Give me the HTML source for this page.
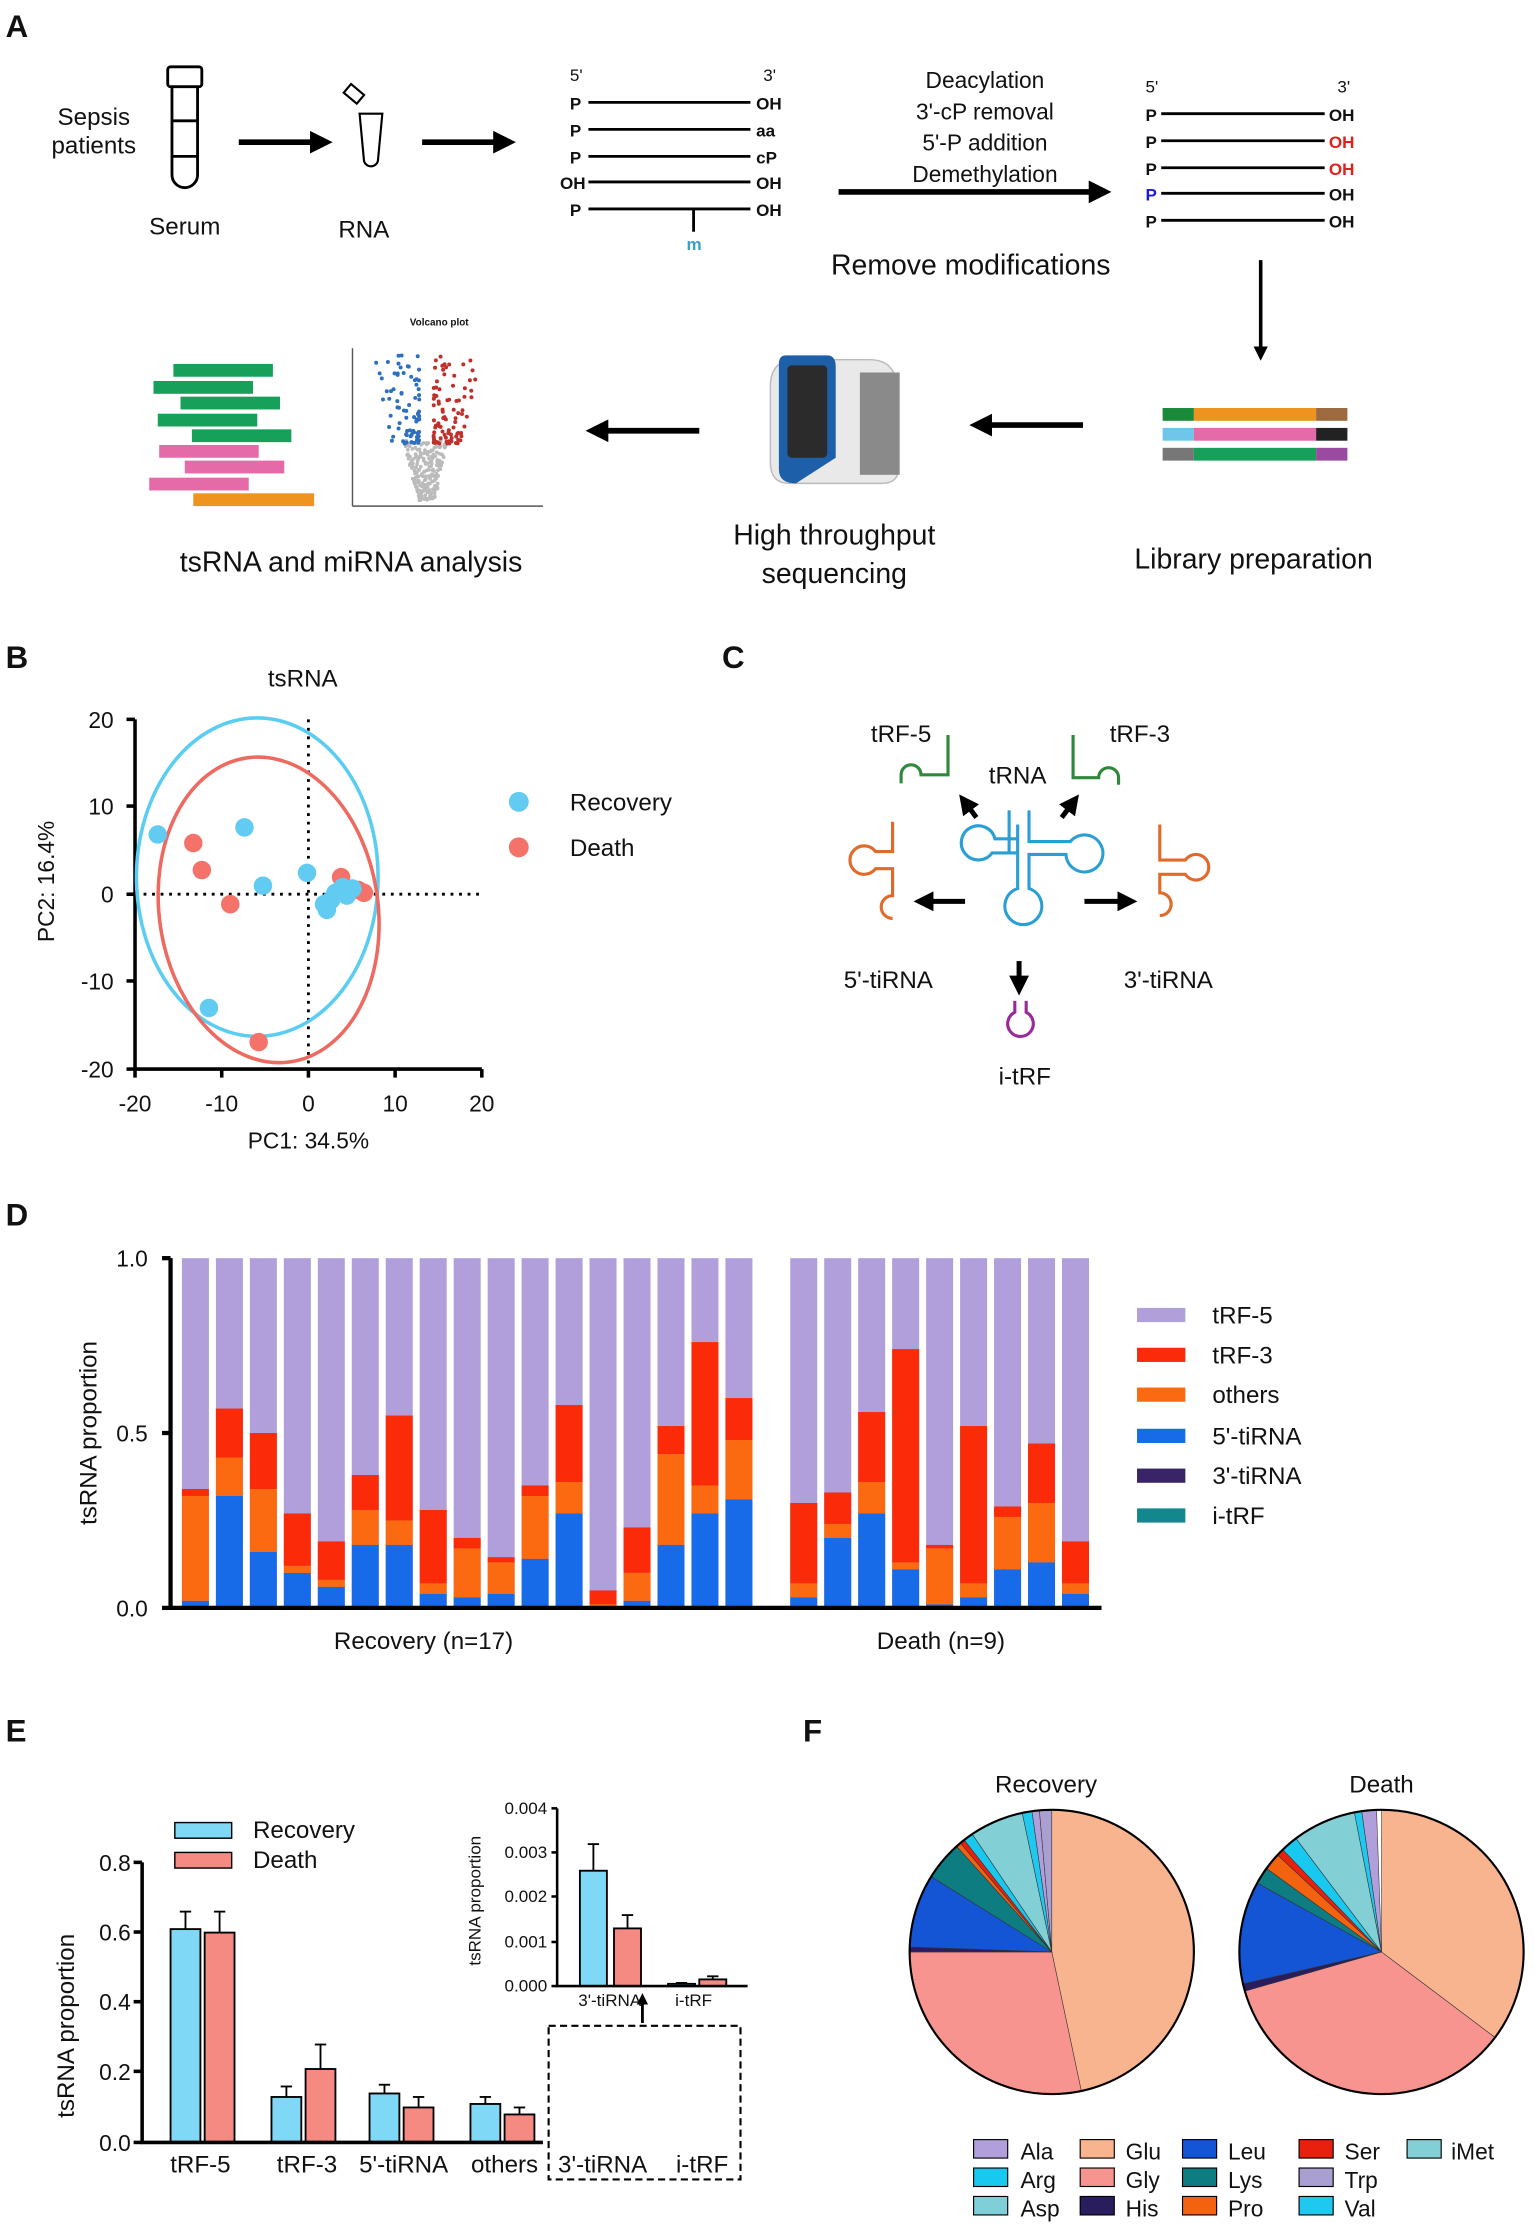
<!DOCTYPE html>
<html><head><meta charset="utf-8"><style>
html,body{margin:0;padding:0;background:#fff}
svg{display:block}
text{font-family:"Liberation Sans",Arial,sans-serif;fill:#111}
</style></head><body>
<svg id="s" width="1535" height="2232" viewBox="0 0 1080 1570" preserveAspectRatio="none" xmlns="http://www.w3.org/2000/svg">
<defs>
<marker id="ah" markerWidth="4" markerHeight="4" refX="2.5" refY="2" orient="auto"><path d="M0,0 L4,2 L0,4 z" fill="#000"/></marker>
</defs>
<text x="4" y="26" font-size="22" font-weight="bold">A</text>
<text x="4" y="470" font-size="22" font-weight="bold">B</text>
<text x="508" y="470" font-size="22" font-weight="bold">C</text>
<text x="4" y="862" font-size="22" font-weight="bold">D</text>
<text x="4" y="1225" font-size="22" font-weight="bold">E</text>
<text x="565" y="1225" font-size="22" font-weight="bold">F</text>

<text x="66" y="88" font-size="17" text-anchor="middle">Sepsis</text>
<text x="66" y="108" font-size="17" text-anchor="middle">patients</text>
<g fill="none" stroke="#000" stroke-width="2">
<rect x="118" y="47" width="24" height="14" rx="2"/>
<path d="M121,61 V123 a9,9 0 0 0 18,0 V61"/>
<line x1="121" y1="85" x2="139" y2="85"/><line x1="121" y1="110" x2="139" y2="110"/>
<path d="M253,80 L256,112 a5,5 0 0 0 10,0 L269,80 z" stroke-width="1.5"/>
<rect x="243" y="62" width="12" height="8" transform="rotate(40 249 66)" stroke-width="1.5"/>
</g>
<text x="130" y="165" font-size="17" text-anchor="middle">Serum</text>
<text x="256" y="167" font-size="17" text-anchor="middle">RNA</text>
<line x1="168" y1="100" x2="228" y2="100" stroke="#000" stroke-width="4" marker-end="url(#ah)"/>
<line x1="297" y1="100" x2="357" y2="100" stroke="#000" stroke-width="4" marker-end="url(#ah)"/>
<g font-size="12" font-weight="bold">
<text x="401" y="57" font-weight="normal">5'</text><text x="537" y="57" font-weight="normal">3'</text>
<text x="401" y="77">P</text><text x="532" y="77">OH</text>
<text x="401" y="96">P</text><text x="532" y="96">aa</text>
<text x="401" y="115">P</text><text x="532" y="115">cP</text>
<text x="394" y="133">OH</text><text x="532" y="133">OH</text>
<text x="401" y="152">P</text><text x="532" y="152">OH</text>
<text x="483" y="176" style="fill:#3aa0c8">m</text>
</g>
<g stroke="#000" stroke-width="2">
<line x1="414" y1="72" x2="528" y2="72"/><line x1="414" y1="91" x2="528" y2="91"/><line x1="414" y1="110" x2="528" y2="110"/><line x1="414" y1="128" x2="528" y2="128"/><line x1="414" y1="147" x2="528" y2="147"/><line x1="488" y1="147" x2="488" y2="163"/>
</g>
<g font-size="16" text-anchor="middle"><text x="693" y="62">Deacylation</text><text x="693" y="84">3'-cP removal</text><text x="693" y="106">5'-P addition</text><text x="693" y="128">Demethylation</text></g>
<line x1="590" y1="135" x2="776" y2="135" stroke="#000" stroke-width="4" marker-end="url(#ah)"/>
<g font-size="12" font-weight="bold">
<text x="806" y="65" font-weight="normal">5'</text><text x="941" y="65" font-weight="normal">3'</text>
<text x="806" y="85">P</text><text x="935" y="85">OH</text>
<text x="806" y="104">P</text><text x="935" y="104" style="fill:#e0201c">OH</text>
<text x="806" y="123">P</text><text x="935" y="123" style="fill:#e0201c">OH</text>
<text x="806" y="141" style="fill:#1a1ad6">P</text><text x="935" y="141">OH</text>
<text x="806" y="160">P</text><text x="935" y="160">OH</text>
</g>
<g stroke="#000" stroke-width="2">
<line x1="817" y1="80" x2="932" y2="80"/><line x1="817" y1="99" x2="932" y2="99"/><line x1="817" y1="118" x2="932" y2="118"/><line x1="817" y1="136" x2="932" y2="136"/><line x1="817" y1="155" x2="932" y2="155"/>
</g>
<text x="683" y="193" font-size="20" text-anchor="middle">Remove modifications</text>
<line x1="887" y1="183" x2="887" y2="250" stroke="#000" stroke-width="2.5" marker-end="url(#ah)"/>
<g>
<rect x="818" y="287" width="22" height="9" fill="#1a8a3a"/><rect x="840" y="287" width="86" height="9" fill="#ee9220"/><rect x="926" y="287" width="22" height="9" fill="#9c6a3e"/>
<rect x="818" y="301" width="22" height="9" fill="#6ec7ea"/><rect x="840" y="301" width="86" height="9" fill="#e56aa8"/><rect x="926" y="301" width="22" height="9" fill="#222"/>
<rect x="818" y="315" width="22" height="9" fill="#777"/><rect x="840" y="315" width="86" height="9" fill="#18a05a"/><rect x="926" y="315" width="22" height="9" fill="#9a4aa0"/>
</g>
<text x="882" y="400" font-size="20" text-anchor="middle">Library preparation</text>
<line x1="762" y1="299" x2="688" y2="299" stroke="#000" stroke-width="4" marker-end="url(#ah)"/>
<g>
<path d="M560,253 L612,253 Q632,253 632,278 L632,330 Q632,340 620,340 L555,340 Q542,340 542,325 L542,272 Q542,253 560,253 z" fill="#e9e9ea" stroke="#bbb"/>
<rect x="605" y="262" width="28" height="72" fill="#8a8a8a"/>
<path d="M553,250 L582,250 Q588,250 588,258 L588,322 L560,340 Q548,340 548,330 L548,256 Q548,250 553,250z" fill="#1d5fa8"/>
<rect x="554" y="257" width="28" height="65" rx="3" fill="#2b2b2b"/>
</g>
<text x="587" y="383" font-size="20" text-anchor="middle">High throughput</text>
<text x="587" y="410" font-size="20" text-anchor="middle">sequencing</text>
<line x1="492" y1="303" x2="418" y2="303" stroke="#000" stroke-width="4" marker-end="url(#ah)"/>
<g>
<rect x="122" y="256" width="70" height="9" fill="#16a05a"/><rect x="108" y="268" width="70" height="9" fill="#16a05a"/><rect x="127" y="279" width="70" height="9" fill="#16a05a"/><rect x="111" y="291" width="70" height="9" fill="#16a05a"/><rect x="135" y="302" width="70" height="9" fill="#16a05a"/>
<rect x="112" y="313" width="70" height="9" fill="#e56aa8"/><rect x="130" y="324" width="70" height="9" fill="#e56aa8"/><rect x="105" y="336" width="70" height="9" fill="#e56aa8"/><rect x="136" y="347" width="85" height="9" fill="#ee9220"/>
<text x="309" y="229" font-size="7" font-weight="bold" text-anchor="middle">Volcano plot</text>
<line x1="248" y1="245" x2="248" y2="356" stroke="#555"/><line x1="248" y1="356" x2="382" y2="356" stroke="#555"/>
<g id="volc"></g>
</g>
<text x="247" y="402" font-size="20" text-anchor="middle">tsRNA and miRNA analysis</text>

<text x="213" y="483" font-size="17" text-anchor="middle">tsRNA</text>
<g stroke="#000" stroke-width="2.5"><line x1="95" y1="506" x2="95" y2="752"/><line x1="95" y1="752" x2="339" y2="752"/>
<line x1="95" y1="506" x2="89" y2="506"/><line x1="95" y1="567" x2="89" y2="567"/><line x1="95" y1="629" x2="89" y2="629"/><line x1="95" y1="690" x2="89" y2="690"/><line x1="95" y1="752" x2="89" y2="752"/>
<line x1="95" y1="752" x2="95" y2="758"/><line x1="156" y1="752" x2="156" y2="758"/><line x1="217" y1="752" x2="217" y2="758"/><line x1="278" y1="752" x2="278" y2="758"/><line x1="339" y1="752" x2="339" y2="758"/></g>
<g stroke="#000" stroke-width="2" stroke-dasharray="2,4"><line x1="217" y1="506" x2="217" y2="752"/><line x1="95" y1="629" x2="339" y2="629"/></g>
<g font-size="16" text-anchor="end"><text x="80" y="512">20</text><text x="80" y="573">10</text><text x="80" y="635">0</text><text x="80" y="696">-10</text><text x="80" y="758">-20</text></g>
<g font-size="16" text-anchor="middle"><text x="95" y="782">-20</text><text x="156" y="782">-10</text><text x="217" y="782">0</text><text x="278" y="782">10</text><text x="339" y="782">20</text></g>
<text x="217" y="808" font-size="16" text-anchor="middle">PC1: 34.5%</text>
<text transform="translate(38 620) rotate(-90)" font-size="16" text-anchor="middle">PC2: 16.4%</text>
<ellipse cx="181" cy="617" rx="85" ry="112" fill="none" stroke="#5bcdf2" stroke-width="2.5"/>
<ellipse cx="189" cy="640" rx="77" ry="108" transform="rotate(-8 189 640)" fill="none" stroke="#ee6a60" stroke-width="2.5"/>
<g fill="#f4726a"><circle cx="136" cy="593" r="6.5"/><circle cx="142" cy="612" r="6.5"/><circle cx="162" cy="636" r="6.5"/><circle cx="240" cy="617" r="6.5"/><circle cx="246" cy="627" r="6.5"/><circle cx="252" cy="626" r="6.5"/><circle cx="256" cy="628" r="6.5"/><circle cx="182" cy="733" r="6.5"/></g>
<g fill="#62cbf2"><circle cx="111" cy="587" r="6.5"/><circle cx="172" cy="582" r="6.5"/><circle cx="185" cy="623" r="6.5"/><circle cx="216" cy="614" r="6.5"/><circle cx="147" cy="709" r="6.5"/><circle cx="230" cy="640" r="6.5"/><circle cx="233" cy="633" r="6.5"/><circle cx="236" cy="628" r="6.5"/><circle cx="241" cy="624" r="6.5"/><circle cx="244" cy="630" r="6.5"/><circle cx="248" cy="625" r="6.5"/><circle cx="228" cy="636" r="6.5"/></g>
<circle cx="365" cy="564" r="7" fill="#62cbf2"/><text x="401" y="570" font-size="17">Recovery</text>
<circle cx="365" cy="596" r="7" fill="#f4726a"/><text x="401" y="602" font-size="17">Death</text>

<g font-size="17" text-anchor="middle"><text x="634" y="522">tRF-5</text><text x="802" y="522">tRF-3</text><text x="716" y="551">tRNA</text><text x="625" y="695">5'-tiRNA</text><text x="822" y="695">3'-tiRNA</text><text x="721" y="763">i-tRF</text></g>
<g fill="none" stroke-width="2.2">
<path d="M667,517 V545 H648 a7,7 0 0 0 -14,0 V551" stroke="#2e8a3a"/>
<path d="M755,517 V547 H773 a7,7 0 0 1 14,0 V552" stroke="#2e8a3a"/>
<path d="M716,580 V625 a13,13 0 1 0 8,0 V601 H750 a13,13 0 1 0 3,-9 H724 V570 M716,590 H700 a12,12 0 1 0 -2,10 H716" stroke="#2a9fd6"/>
<path d="M710,600 V570" stroke="#2a9fd6"/>
<path d="M628,578 V599 H616 a10,10 0 1 0 0,12 H628 V630 a8,8 0 0 0 0,16" stroke="#e06a2a"/>
<path d="M816,580 V605 H834 a9,9 0 1 1 0,10 H816 V628 a8,8 0 0 1 0,16" stroke="#e06a2a"/>
<path d="M714,704 V712 a9,9 0 1 0 8,0 V704" stroke="#9a2a9a"/>
</g>
<g stroke="#000" stroke-width="3.5">
<line x1="687" y1="575" x2="678" y2="563" marker-end="url(#ah)"/><line x1="747" y1="575" x2="756" y2="563" marker-end="url(#ah)"/>
<line x1="679" y1="634" x2="648" y2="634" marker-end="url(#ah)"/><line x1="763" y1="634" x2="795" y2="634" marker-end="url(#ah)"/>
<line x1="717" y1="676" x2="717" y2="695" marker-end="url(#ah)"/>
</g>

<g id="dbars"></g>
<g stroke="#000" stroke-width="3"><line x1="120" y1="885" x2="120" y2="1131"/><line x1="119" y1="1131" x2="775" y2="1131"/>
<line x1="120" y1="885" x2="114" y2="885"/><line x1="120" y1="1008" x2="114" y2="1008"/><line x1="120" y1="1131" x2="114" y2="1131"/></g>
<g font-size="16" text-anchor="end"><text x="104" y="891">1.0</text><text x="104" y="1014">0.5</text><text x="104" y="1137">0.0</text></g>
<text transform="translate(68 1008) rotate(-90)" font-size="17" text-anchor="middle">tsRNA proportion</text>
<text x="298" y="1160" font-size="17" text-anchor="middle">Recovery (n=17)</text>
<text x="662" y="1160" font-size="17" text-anchor="middle">Death (n=9)</text>
<g font-size="17">
<rect x="800" y="920" width="34" height="10" fill="#b19fdb"/><text x="853" y="931">tRF-5</text>
<rect x="800" y="948" width="34" height="10" fill="#fb2b0a"/><text x="853" y="959">tRF-3</text>
<rect x="800" y="976" width="34" height="10" fill="#fb6a10"/><text x="853" y="987">others</text>
<rect x="800" y="1005" width="34" height="10" fill="#186be8"/><text x="853" y="1016">5'-tiRNA</text>
<rect x="800" y="1033" width="34" height="10" fill="#3a2468"/><text x="853" y="1044">3'-tiRNA</text>
<rect x="800" y="1061" width="34" height="10" fill="#12888e"/><text x="853" y="1072">i-tRF</text>
</g>

<g id="ebars"></g>
<g stroke="#000" stroke-width="2.5"><line x1="100" y1="1310" x2="100" y2="1507"/><line x1="99" y1="1507" x2="382" y2="1507"/>
<line x1="100" y1="1310" x2="94" y2="1310"/><line x1="100" y1="1359" x2="94" y2="1359"/><line x1="100" y1="1408" x2="94" y2="1408"/><line x1="100" y1="1457" x2="94" y2="1457"/><line x1="100" y1="1507" x2="94" y2="1507"/></g>
<g font-size="16" text-anchor="end"><text x="92" y="1316">0.8</text><text x="92" y="1365">0.6</text><text x="92" y="1414">0.4</text><text x="92" y="1463">0.2</text><text x="92" y="1513">0.0</text></g>
<text transform="translate(52 1425) rotate(-90)" font-size="17" text-anchor="middle">tsRNA proportion</text>
<g font-size="17" text-anchor="middle"><text x="141" y="1528">tRF-5</text><text x="216" y="1528">tRF-3</text><text x="284" y="1528">5'-tiRNA</text><text x="355" y="1528">others</text><text x="424" y="1528">3'-tiRNA</text><text x="494" y="1528">i-tRF</text></g>
<rect x="386" y="1425" width="135" height="108" fill="none" stroke="#000" stroke-width="1.5" stroke-dasharray="5,3"/>
<line x1="452" y1="1423" x2="452" y2="1405" stroke="#000" stroke-width="2" marker-end="url(#ah)"/>
<rect x="123" y="1282" width="40" height="11" fill="#7fd8f5" stroke="#000"/><text x="178" y="1293" font-size="17">Recovery</text>
<rect x="123" y="1303" width="40" height="11" fill="#f58a82" stroke="#000"/><text x="178" y="1314" font-size="17">Death</text>
<g stroke="#000" stroke-width="1.8"><line x1="392" y1="1272" x2="392" y2="1397"/><line x1="391" y1="1397" x2="526" y2="1397"/>
<line x1="392" y1="1272" x2="388" y2="1272"/><line x1="392" y1="1303" x2="388" y2="1303"/><line x1="392" y1="1334" x2="388" y2="1334"/><line x1="392" y1="1366" x2="388" y2="1366"/><line x1="392" y1="1397" x2="388" y2="1397"/></g>
<g font-size="12" text-anchor="end"><text x="385" y="1276">0.004</text><text x="385" y="1307">0.003</text><text x="385" y="1338">0.002</text><text x="385" y="1370">0.001</text><text x="385" y="1401">0.000</text></g>
<text transform="translate(338 1337) rotate(-90)" font-size="12" text-anchor="middle">tsRNA proportion</text>
<g font-size="12" text-anchor="middle"><text x="429" y="1411">3'-tiRNA</text><text x="488" y="1411">i-tRF</text></g>

<text x="736" y="1261" font-size="17" text-anchor="middle">Recovery</text>
<text x="972" y="1261" font-size="17" text-anchor="middle">Death</text>
<g id="pies"></g>
<g font-size="16">
<text x="718" y="1519">Ala</text><text x="718" y="1539">Arg</text><text x="718" y="1559">Asp</text>
<text x="792" y="1519">Glu</text><text x="792" y="1539">Gly</text><text x="792" y="1559">His</text>
<text x="864" y="1519">Leu</text><text x="864" y="1539">Lys</text><text x="864" y="1559">Pro</text>
<text x="946" y="1519">Ser</text><text x="946" y="1539">Trp</text><text x="946" y="1559">Val</text>
<text x="1021" y="1519">iMet</text>
</g>
</svg>
<script>
var NS="http://www.w3.org/2000/svg";
function el(p,t,a){var e=document.createElementNS(NS,t);for(var k in a)e.setAttribute(k,a[k]);p.appendChild(e);return e;}
var v=document.getElementById('volc');var seed=3;function r(){seed=(seed*9301+49297)%233280;return seed/233280;}
for(var i=0;i<220;i++){var y=r();var x=(r()-0.5)*2*(6+y*10);el(v,'circle',{cx:300+x,cy:352-y*42,r:1.3,fill:'#bbb'});}
for(var i=0;i<170;i++){var s=r()<0.5?-1:1;var q=r();var py=312-Math.pow(q,1.6)*62;var px=300+s*(5+Math.pow(r(),1.6)*(18+q*15));el(v,'circle',{cx:px,cy:py,r:1.4,fill:s<0?'#2f6fc0':'#c0302a'});}
var g=document.getElementById('dbars');
var R=[[.02,.32,.34],[.32,.43,.57],[.16,.34,.50],[.10,.12,.27],[.06,.08,.19],[.18,.28,.38],[.18,.25,.55],[.04,.07,.28],[.03,.17,.20],[.04,.13,.145],[.14,.32,.35],[.27,.36,.58],[.005,.01,.05],[.02,.10,.23],[.18,.44,.52],[.27,.35,.76],[.31,.48,.60]];
var D=[[.03,.07,.30],[.20,.24,.33],[.27,.36,.56],[.11,.13,.74],[.01,.17,.18],[.03,.07,.52],[.11,.26,.29],[.13,.30,.47],[.04,.07,.19]];
function bar(x,v){var y=function(q){return 1131-q*246;};
el(g,'rect',{x:x,y:885,width:19,height:246,fill:'#b19fdb'});
el(g,'rect',{x:x,y:y(v[2]),width:19,height:y(v[1])-y(v[2]),fill:'#fb2b0a'});
el(g,'rect',{x:x,y:y(v[1]),width:19,height:y(v[0])-y(v[1]),fill:'#fb6a10'});
el(g,'rect',{x:x,y:y(v[0]),width:19,height:1131-y(v[0]),fill:'#186be8'});}
R.forEach(function(v,i){bar(128+i*23.9,v);});D.forEach(function(v,i){bar(556+i*23.9,v);});
var e=document.getElementById('ebars');
function eb(x,val,err,col,y0,sc,w){var t=y0-val*sc;el(e,'rect',{x:x,y:t,width:w,height:y0-t,fill:col,stroke:'#000','stroke-width':1.3});
var et=t-err*sc;el(e,'line',{x1:x+w/2,y1:t,x2:x+w/2,y2:et,stroke:'#000','stroke-width':1.3});el(e,'line',{x1:x+w/2-4,y1:et,x2:x+w/2+4,y2:et,stroke:'#000','stroke-width':1.3});}
var B='#7fd8f5',Rd='#f58a82';
[[120,.61,.05,.60,.06],[191,.13,.03,.21,.07],[260,.14,.025,.10,.03],[331,.11,.02,.08,.02]].forEach(function(a){eb(a[0],a[1],a[2],B,1507,246,21);eb(a[0]+24,a[3],a[4],Rd,1507,246,21);});
eb(408,.0026,.0006,B,1397,31200,19);eb(432,.0013,.0003,Rd,1397,31200,19);eb(470,.00005,.00002,B,1397,31200,19);eb(492,.00015,.00007,Rd,1397,31200,19);
var C={Ala:'#b19fdb',Arg:'#19c8ef',Asp:'#7fcfd8',Glu:'#f8b48f',Gly:'#f79490',His:'#2a1d5e',Leu:'#1455d6',Lys:'#0e7d82',Pro:'#f3620f',Ser:'#e8200e',Trp:'#a99fd0',Val:'#1ec8ef',iMet:'#82cfd6'};
var P=document.getElementById('pies');
function pie(cx,cy,r,sl){var a=0;sl.forEach(function(s){var a1=a,a2=a+s[1];a=a2;var f=function(t){t=(t-90)*Math.PI/180;return [cx+r*Math.cos(t),cy+r*Math.sin(t)];};var p1=f(a1),p2=f(a2);
el(P,'path',{d:'M'+cx+','+cy+' L'+p1[0]+','+p1[1]+' A'+r+','+r+' 0 '+(s[1]>180?1:0)+' 1 '+p2[0]+','+p2[1]+' z',fill:C[s[0]],stroke:'#333','stroke-width':0.4});});
el(P,'circle',{cx:cx,cy:cy,r:r,fill:'none',stroke:'#000','stroke-width':1.5});}
pie(740,1373,100,[['Glu',168],['Gly',102],['His',2],['Leu',30],['Lys',16],['Pro',2],['Ser',2],['Arg',4],['iMet',22],['Val',4],['Ala',3],['Trp',5]]);
pie(972,1373,100,[['Glu',127],['Gly',127],['His',3],['Leu',42],['Lys',7],['Pro',7],['Ser',3],['Arg',7],['iMet',26],['Val',3],['Ala',6]]);
var L=[['Ala',685,1505],['Arg',685,1525],['Asp',685,1545],['Glu',760,1505],['Gly',760,1525],['His',760,1545],['Leu',832,1505],['Lys',832,1525],['Pro',832,1545],['Ser',914,1505],['Trp',914,1525],['Val',914,1545],['iMet',990,1505]];
L.forEach(function(l){el(P,'rect',{x:l[1],y:l[2],width:24,height:13,fill:C[l[0]],stroke:'#000','stroke-width':0.8});});
</script>
</body></html>
